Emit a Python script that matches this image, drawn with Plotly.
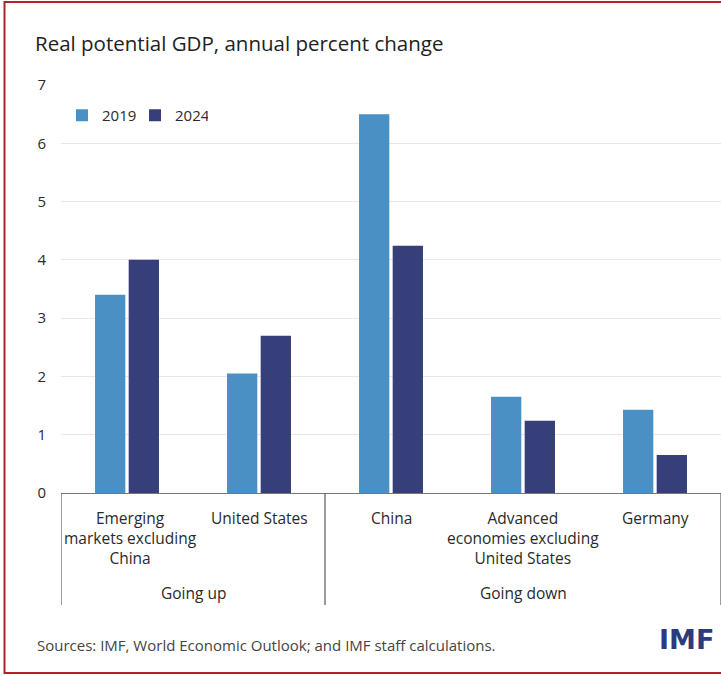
import plotly.graph_objects as go

# ---- data ----
categories = ["Emerging<br>markets excluding<br>China", "United States", "China",
              "Advanced<br>economies excluding<br>United States", "Germany"]
values_2019 = [3.4, 2.05, 6.5, 1.65, 1.43]
values_2024 = [4.0, 2.7, 4.24, 1.24, 0.65]
group_names = ["Going up", "Going down"]
group_sizes = [2, 3]
y_ticks = [0, 1, 2, 3, 4, 5, 6, 7]

# ---- layout geometry ----
W, H = 721, 675
L, R, T, B = 61, 0, 85, 182
PW, PH = W - L - R, H - T - B

def px_x(p):
    return (p - L) / PW

def px_y(p):
    return (H - B - p) / PH

FONT = "Open Sans"
C19 = "#4b90c5"
C24 = "#363f79"

xs = list(range(len(categories)))

fig = go.Figure()
fig.add_bar(x=xs, y=values_2019, name="2019", marker=dict(color=C19, line=dict(width=0)))
fig.add_bar(x=xs, y=values_2024, name="2024", marker=dict(color=C24, line=dict(width=0)))

annotations = []
shapes = []

# category labels
for i, c in enumerate(categories):
    annotations.append(dict(x=i, xref="x", y=px_y(505), yref="paper", text=c,
                            showarrow=False, xanchor="center", yanchor="top",
                            xshift=3 if i == 0 else 0,
                            font=dict(family=FONT, size=15.5, color="#2a2a2a"), align="center"))

# group separators and labels
start = -0.5
bounds = [start]
for name, n in zip(group_names, group_sizes):
    end = start + n
    annotations.append(dict(x=(start + end) / 2, xref="x", y=px_y(593), yref="paper",
                            text=name, showarrow=False, xanchor="center", yanchor="middle",
                            font=dict(family=FONT, size=15.5, color="#2a2a2a")))
    bounds.append(end)
    start = end
for bx in bounds:
    shapes.append(dict(type="line", xref="x", yref="paper", x0=bx, x1=bx,
                       y0=0, y1=px_y(605), line=dict(color="#666666", width=1.3)))

# sources
annotations.append(dict(x=px_x(35), xref="paper", y=px_y(645), yref="paper",
                        text="Sources: IMF, World Economic Outlook; and IMF staff calculations.",
                        showarrow=False, xanchor="left", yanchor="middle",
                        font=dict(family=FONT, size=15, color="#444444")))
# IMF logo
annotations.append(dict(x=px_x(657), xref="paper", y=px_y(639), yref="paper",
                        text="<b>IMF</b>", showarrow=False, xanchor="left", yanchor="middle",
                        font=dict(family="DejaVu Sans", size=27, color="#2d3b7e")))

# border
shapes.append(dict(type="rect", xref="paper", yref="paper",
                   x0=px_x(4.5), x1=px_x(740), y0=px_y(673), y1=px_y(2),
                   line=dict(color="#b3222c", width=2), fillcolor="rgba(0,0,0,0)", layer="above"))

fig.update_layout(
    width=W, height=H,
    margin=dict(l=L, r=R, t=T, b=B, pad=0),
    paper_bgcolor="white", plot_bgcolor="white",
    barmode="group", bargap=0.49, bargroupgap=0.1,
    font=dict(family=FONT, size=15, color="#2a2a2a"),
    title=dict(text="Real potential GDP, annual percent change", xref="container",
               x=35 / W, xanchor="left", y=1 - 44 / H, yanchor="middle",
               font=dict(family=FONT, size=20.5, color="#222222")),
    legend=dict(orientation="h", x=px_x(62), y=px_y(99), xanchor="left", yanchor="top",
                font=dict(family=FONT, size=15, color="#2a2a2a"), bgcolor="rgba(0,0,0,0)",
                itemwidth=30, entrywidth=28, tracegroupgap=0),
    xaxis=dict(range=[-0.5, len(categories) - 0.5], showticklabels=False, showgrid=False,
               zeroline=False, showline=False, ticks=""),
    yaxis=dict(range=[0, 7], tickvals=y_ticks, showgrid=True, gridcolor="#ebe5e5",
               gridwidth=1, zeroline=True, zerolinecolor="#777777", zerolinewidth=1.3,
               showline=False, ticks="", ticklabelstandoff=14,
               tickfont=dict(family=FONT, size=15, color="#2a2a2a")),
    annotations=annotations, shapes=shapes,
    showlegend=True,
)

fig.write_html("out.html", config={"displayModeBar": False},
               post_script="document.body.style.margin='0';document.body.style.overflow='hidden';")
